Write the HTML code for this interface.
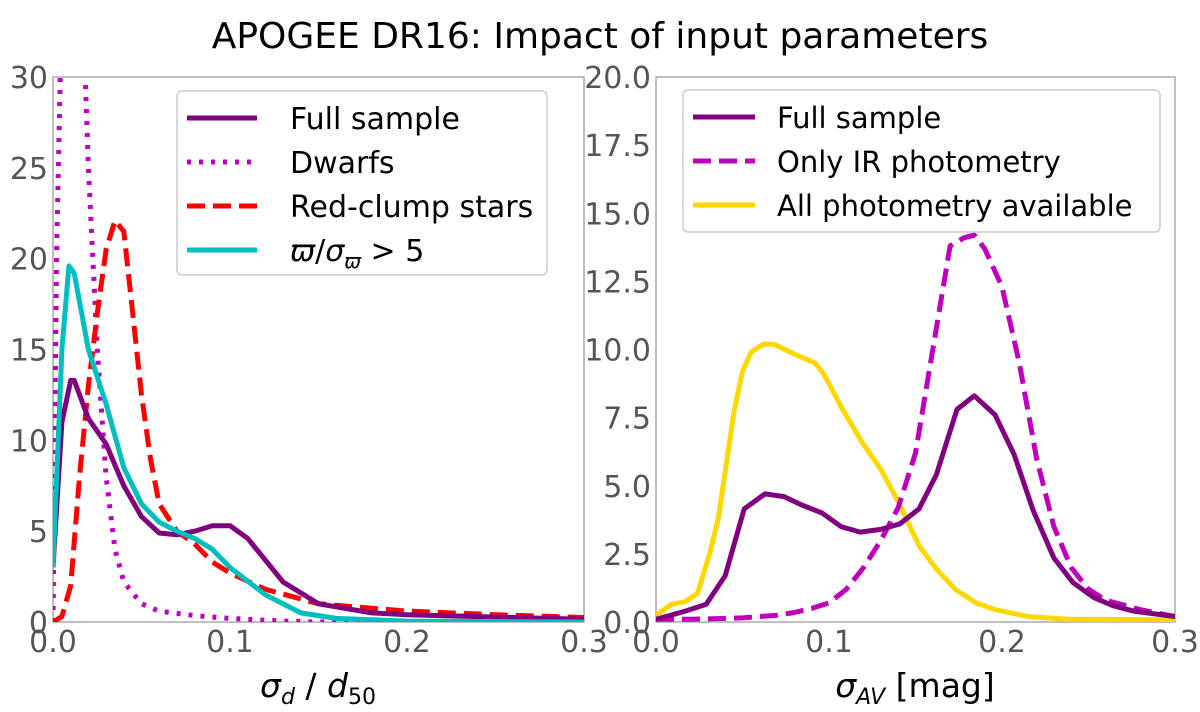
<!DOCTYPE html>
<html><head><meta charset="utf-8"><style>
body{margin:0;background:#fff;}
svg{font-family:"DejaVu Sans","Liberation Sans",sans-serif;}
</style></head><body>
<svg id="chart" width="1200" height="707" viewBox="0 0 1200 707">
<defs>
<clipPath id="cl"><rect x="53" y="77" width="531" height="545"/></clipPath>
<clipPath id="cr"><rect x="656" y="77" width="519" height="545"/></clipPath>
</defs>
<text x="600" y="48" font-size="36" text-anchor="middle" fill="#000">APOGEE DR16: Impact of input parameters</text>
<g id="left"></g>
<g id="right"></g>
</svg>
<script>
const NS="http://www.w3.org/2000/svg";
// Left panel data
const lxTicks=[0,0.1,0.2,0.3];
const lxTickLabels=["0.0","0.1","0.2","0.3"];
const lyTicks=[0,5,10,15,20,25,30];
const lFullX=[0,0.005,0.01,0.012,0.02,0.03,0.04,0.05,0.06,0.07,0.08,0.09,0.1,0.11,0.12,0.13,0.15,0.18,0.2,0.3];
const lFullY=[3,11,13.3,13.3,11.2,9.8,7.5,5.8,4.9,4.8,5.0,5.3,5.3,4.6,3.4,2.2,1.0,0.5,0.4,0.15];
const lDwarfX=[0,0.002,0.0045,0.008,0.012,0.0175,0.02,0.025,0.03,0.035,0.04,0.05,0.06,0.08,0.1,0.13,0.15,0.3];
const lDwarfY=[0,20,32,40,40,32,25,15,8,4,2.2,1,0.6,0.35,0.2,0.05,0,0];
const lRcX=[0,0.005,0.01,0.015,0.02,0.025,0.03,0.035,0.04,0.045,0.05,0.055,0.06,0.07,0.08,0.09,0.1,0.12,0.15,0.2,0.25,0.3];
const lRcY=[0,0.3,2,8,13,17,20.5,22.1,21.5,17,12.5,9,6.5,5,4.3,3.3,2.7,1.8,1.0,0.6,0.4,0.25];
const lParX=[0,0.005,0.009,0.012,0.02,0.03,0.04,0.05,0.06,0.07,0.08,0.09,0.1,0.12,0.14,0.16,0.2,0.3];
const lParY=[3,15,19.6,19.2,15,12,8.5,6.5,5.5,5.0,4.6,4.0,3.0,1.5,0.5,0.2,0.05,0];
// Right panel data
const rxTicks=[0,0.1,0.2,0.3];
const rxTickLabels=["0.0","0.1","0.2","0.3"];
const ryTicks=[0,2.5,5,7.5,10,12.5,15,17.5,20];
const ryTickLabels=["0.0","2.5","5.0","7.5","10.0","12.5","15.0","17.5","20.0"];
const rFullX=[0,0.017,0.029,0.04,0.051,0.063,0.074,0.084,0.096,0.107,0.118,0.13,0.141,0.152,0.162,0.174,0.184,0.196,0.207,0.218,0.23,0.241,0.253,0.264,0.276,0.3];
const rFullY=[0.1,0.4,0.65,1.7,4.15,4.7,4.6,4.3,4.0,3.5,3.3,3.4,3.6,4.15,5.4,7.8,8.3,7.6,6.15,4.1,2.35,1.45,0.9,0.6,0.4,0.2];
const rIrX=[0,0.02,0.05,0.07,0.08,0.09,0.1,0.11,0.12,0.13,0.14,0.15,0.16,0.17,0.178,0.184,0.19,0.2,0.21,0.22,0.23,0.24,0.25,0.26,0.28,0.3];
const rIrY=[0.1,0.1,0.15,0.25,0.35,0.5,0.7,1.2,2.0,3.0,4.2,6.2,10,13.8,14.1,14.2,13.7,12.3,9.5,6,3.5,2,1.2,0.8,0.45,0.2];
const rAllX=[0,0.009,0.017,0.024,0.031,0.036,0.045,0.05,0.055,0.062,0.068,0.081,0.092,0.097,0.107,0.119,0.13,0.141,0.152,0.162,0.173,0.185,0.196,0.215,0.238,0.3];
const rAllY=[0.25,0.65,0.75,1.05,2.5,3.8,7.7,9.2,9.9,10.2,10.2,9.8,9.5,9.1,7.9,6.6,5.6,4.3,2.8,1.95,1.2,0.7,0.45,0.2,0.1,0.08];

function el(tag,attrs,parent){const e=document.createElementNS(NS,tag);for(const k in attrs)e.setAttribute(k,attrs[k]);parent.appendChild(e);return e;}
function panel(g,x0,x1,y0,y1,xmax,ymax,xt,xtl,yt,ytl,clip){
  const sx=v=>x0+(x1-x0)*v/xmax, sy=v=>y1-(y1-y0)*v/ymax;
  const fr=el('rect',{x:x0,y:y0,width:x1-x0,height:y1-y0,fill:'none',stroke:'#aaa','stroke-width':1.5},g);
  
  
  xt.forEach((v,i)=>{const t=el('text',{x:sx(v),y:y1+30,'font-size':30,fill:'#555','text-anchor':'middle'},g);t.textContent=xtl[i];
    
    });
  yt.forEach((v,i)=>{const t=el('text',{x:x0-5,y:sy(v)+11,'font-size':30,fill:'#555','text-anchor':'end'},g);t.textContent=ytl[i];
    
    });
  return {sx,sy,clip};
}
function line(g,p,xs,ys,color,dash,name){
  const pts=xs.map((x,i)=>p.sx(x).toFixed(1)+','+p.sy(ys[i]).toFixed(1)).join(' ');
  const a={points:pts,fill:'none',stroke:color,'stroke-width':5,'stroke-linejoin':'round','clip-path':'url(#'+p.clip+')'};
  if(dash)a['stroke-dasharray']=dash;
  const e=el('polyline',a,g);
  
  
}
function legend(g,x,y,w,h,items,sw,tx,fs){
  const b=el('rect',{x:x,y:y,width:w,height:h,rx:5,fill:'#fff',stroke:'#ccc','stroke-width':1.5},g);
  
  
  items.forEach((it,i)=>{const yy=y+27+i*44;
    const a={x1:x+10,x2:x+10+sw,y1:yy,y2:yy,stroke:it[1],'stroke-width':5};if(it[2])a['stroke-dasharray']=it[2];
    const l=el('line',a,g);
    
    
    const t=el('text',{x:x+tx,y:yy+11,'font-size':fs,fill:'#000'},g);t.innerHTML=it[0];
    
    });
}
const L=document.getElementById('left'),R=document.getElementById('right');
const pl=panel(L,53,584,77,622,0.3,30,lxTicks,lxTickLabels,lyTicks,lyTicks.map(String),'cl');
line(L,pl,lDwarfX,lDwarfY,'#bf00bf','4 8','dwarfs-line');
line(L,pl,lRcX,lRcY,'#ff0000','18 8','red-clump-line');
line(L,pl,lFullX,lFullY,'#800080',null,'full-sample-line');
line(L,pl,lParX,lParY,'#00bfbf',null,'parallax-line');
legend(L,177,91,370,184,[['Full sample','#800080'],['Dwarfs','#bf00bf','4 8'],['Red-clump stars','#ff0000','18 8'],['<tspan font-style="italic">ϖ</tspan>/<tspan font-style="italic">σ</tspan><tspan font-size="20" dy="7" font-style="italic">ϖ</tspan><tspan dy="-7"> &gt; 5</tspan>','#00bfbf']],70,113,30);
const xl=el('text',{x:318,y:697,'font-size':33,'text-anchor':'middle',fill:'#000'},L);
xl.innerHTML='<tspan font-style="italic">σ</tspan><tspan font-size="22" dy="7" font-style="italic">d</tspan><tspan dy="-7"> / </tspan><tspan font-style="italic">d</tspan><tspan font-size="22" dy="7">50</tspan>';



const pr=panel(R,656,1175,77,622,0.3,20,rxTicks,rxTickLabels,ryTicks,ryTickLabels,'cr');
line(R,pr,rAllX,rAllY,'#ffd700',null,'all-photometry-line');
line(R,pr,rIrX,rIrY,'#bf00bf','18 8','ir-photometry-line');
line(R,pr,rFullX,rFullY,'#800080',null,'full-sample-line-right');
legend(R,683,90,477,142,[['Full sample','#800080'],['Only IR photometry','#bf00bf','18 8'],['All photometry available','#ffd700']],62,94,29);
const xr=el('text',{x:915,y:697,'font-size':33,'text-anchor':'middle',fill:'#000'},R);
xr.innerHTML='<tspan font-style="italic">σ</tspan><tspan font-size="22" dy="7" font-style="italic">AV</tspan><tspan dy="-7"> [mag]</tspan>';


</script>
</body></html>
